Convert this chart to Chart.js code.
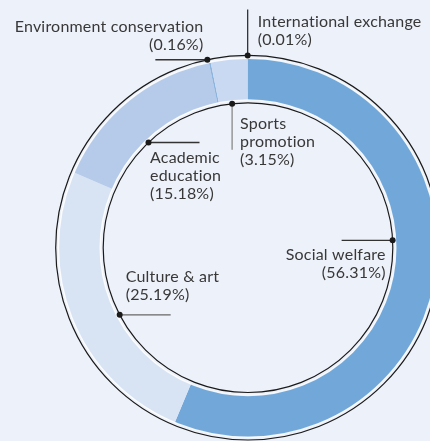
<!DOCTYPE html>
<html>
<head>
<meta charset="utf-8">
<script src="https://cdn.jsdelivr.net/npm/chart.js@4.4.1/dist/chart.umd.min.js"></script>
<style>
  html, body { margin: 0; padding: 0; background: #edf1f9; }
  #wrap { width: 430px; height: 441px; overflow: hidden; position: relative; }
  #c { position: absolute; left: 0; top: 0; }
</style>
</head>
<body>
<div id="wrap"><canvas id="c" width="500" height="441"></canvas></div>
<script>
// Donation share by field (percent)
const categories = [
  'Social welfare',
  'Culture & art',
  'Academic education',
  'Environment conservation',
  'Sports promotion',
  'International exchange'
];
const shares = [56.31, 25.19, 15.18, 0.16, 3.15, 0.01];
const colors = ['#71a7d9', '#d8e4f4', '#b6cbea', '#8db4df', '#c8d9f1', '#71a7d9'];

// Label text lines for each category (name lines; the share line is appended)
const nameLines = [
  ['Social welfare'],
  ['Culture & art'],
  ['Academic', 'education'],
  ['Environment conservation'],
  ['Sports', 'promotion'],
  ['International exchange']
];

// Callout layout: which guide circle the dot sits on, its angle (deg, clockwise from top),
// the leader line offset, and where the text block starts relative to the dot.
const callouts = [
  { ring: 'inner', angle: 87.1,  lead: [-51, 0],  tx: -7,  ty: 19.7,  align: 'right', leadColor: '#333' },
  { ring: 'inner', angle: 242.4, lead: [51, 0],   tx: 6,   ty: -32.3, align: 'left',  leadColor: '#666' },
  { ring: 'inner', angle: 316.6, lead: [51, 0],   tx: 1.5, ty: 21,    align: 'left',  leadColor: '#333' },
  { ring: 'outer', angle: 347.8, lead: [-52, 0],  tx: -4,  ty: -28,   align: 'right', leadColor: '#333' },
  { ring: 'inner', angle: 353.7, lead: [0, 46],   tx: 8,   ty: 25.5,  align: 'left',  leadColor: '#888' },
  { ring: 'outer', angle: 359.9, lead: [0, -46],  tx: 10,  ty: -28,   align: 'left',  leadColor: '#333' }
];

const FONT = '16px Lato';
const LETTER_SPACING = '0.2px';
const LINE_H = 17.8;

const guidePlugin = {
  id: 'guides',
  afterDatasetsDraw(chart) {
    const ctx = chart.ctx;
    const arcs = chart.getDatasetMeta(0).data;
    const a0 = arcs[0];
    const cx = a0.x, cy = a0.y;
    const rOut = a0.outerRadius, rIn = a0.innerRadius;
    const gOut = rOut + 2.8, gIn = rIn - 3;

    ctx.save();
    // pale rims on the ring edges
    ctx.strokeStyle = 'rgba(255,255,255,0.85)';
    ctx.lineWidth = 1.4;
    [rOut, rIn].forEach(r => {
      ctx.beginPath(); ctx.arc(cx, cy, r, 0, Math.PI * 2); ctx.stroke();
    });
    // thin black guide circles
    ctx.strokeStyle = '#1a1a1a';
    ctx.lineWidth = 1.2;
    [gOut, gIn].forEach(r => {
      ctx.beginPath(); ctx.arc(cx, cy, r, 0, Math.PI * 2); ctx.stroke();
    });

    // callouts
    ctx.font = FONT;
    if ('letterSpacing' in ctx) ctx.letterSpacing = LETTER_SPACING;
    ctx.textBaseline = 'alphabetic';
    callouts.forEach((c, i) => {
      const r = c.ring === 'outer' ? gOut : gIn;
      const t = (c.angle - 90) * Math.PI / 180;
      const px = cx + r * Math.cos(t), py = cy + r * Math.sin(t);
      ctx.strokeStyle = c.leadColor;
      ctx.lineWidth = 1.3;
      ctx.beginPath();
      ctx.moveTo(px, py);
      ctx.lineTo(px + c.lead[0], py + c.lead[1]);
      ctx.stroke();
      ctx.fillStyle = '#1a1a1a';
      ctx.beginPath(); ctx.arc(px, py, 3, 0, Math.PI * 2); ctx.fill();

      const lines = nameLines[i].concat(['(' + shares[i].toFixed(2) + '%)']);
      ctx.fillStyle = '#383838';
      ctx.textAlign = c.align;
      lines.forEach((s, k) => {
        ctx.fillText(s, px + c.tx, py + c.ty + k * LINE_H);
      });
    });
    ctx.restore();
  }
};

new Chart(document.getElementById('c'), {
  type: 'doughnut',
  data: {
    labels: categories,
    datasets: [{
      data: shares,
      backgroundColor: colors,
      borderWidth: 0,
      hoverOffset: 0
    }]
  },
  options: {
    responsive: false,
    animation: false,
    cutout: '78%',
    rotation: 0,
    layout: { padding: { left: 58.3, top: 58.2, right: 62.3, bottom: 3.8 } },
    plugins: { legend: { display: false }, tooltip: { enabled: false } },
    events: []
  },
  plugins: [guidePlugin]
});
</script>
</body>
</html>
